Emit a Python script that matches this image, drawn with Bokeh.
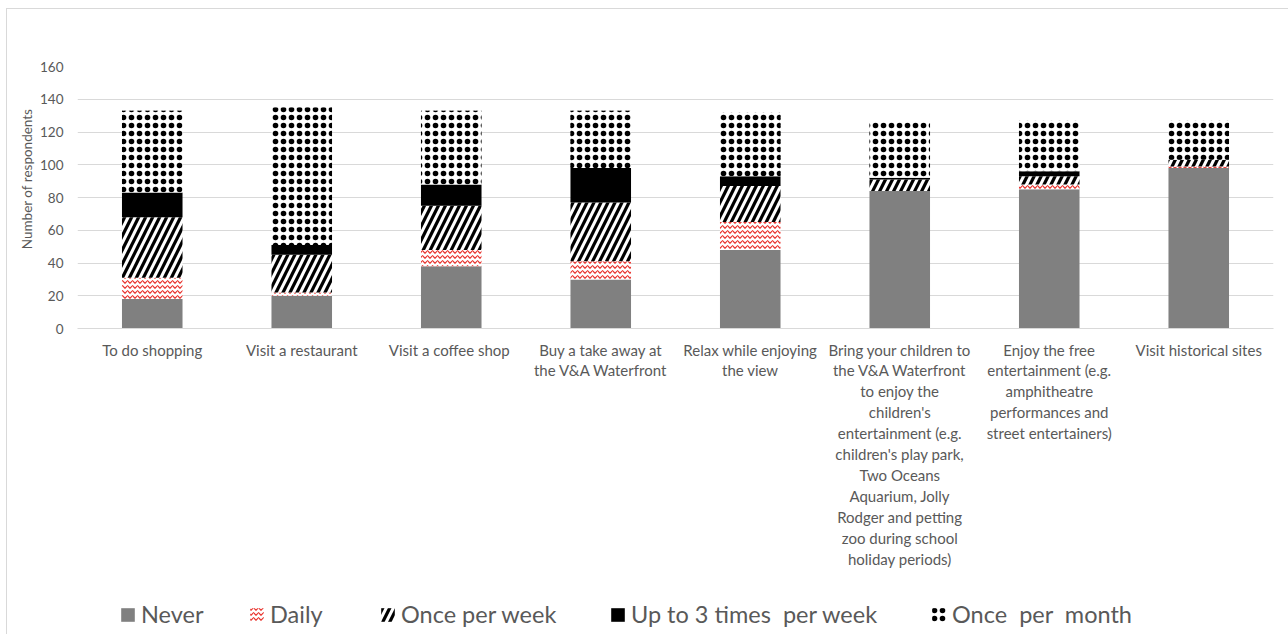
from bokeh.plotting import figure
from bokeh.layouts import column
from bokeh.models import ColumnDataSource, Range1d, FixedTicker, Legend, LegendItem, Title
from bokeh.transform import stack
from bokeh.embed import file_html
from bokeh.resources import INLINE

# Activities at the V&A Waterfront (x categories, wrapped by hand)
activities = [
    "To do shopping",
    "Visit a restaurant",
    "Visit a coffee  shop",
    "Buy a take away at\nthe V&A Waterfront",
    "Relax while enjoying\nthe view",
    "Bring your children to\nthe V&A Waterfront\nto enjoy the\nchildren's\nentertainment (e.g.\nchildren's play park,\nTwo Oceans\nAquarium, Jolly\nRodger and petting\nzoo during school\nholiday periods)",
    "Enjoy the free\nentertainment (e.g.\namphitheatre\nperformances and\nstreet entertainers)",
    "Visit historical sites",
]

# Frequency groups (stack order, bottom to top)
frequencies = ["Never", "Daily", "Once per week", "Up to 3 times  per week", "Once  per  month"]

# Number of respondents per activity and frequency
never = [18, 20, 38, 30, 48, 84, 85, 98]
daily = [13, 2, 10, 11, 17, 0, 3, 1]
once_per_week = [37, 23, 27, 36, 22, 7, 5, 4]
up_to_3_per_week = [15, 6, 13, 21, 6, 1, 3, 0]
once_per_month = [50, 84, 45, 35, 39, 34, 31, 24]

y_ticks = [0, 20, 40, 60, 80, 100, 120, 140, 160]

source = ColumnDataSource(dict(
    activity=activities,
    never=never,
    daily=daily,
    week=once_per_week,
    up3=up_to_3_per_week,
    month=once_per_month,
))
stack_keys = ["never", "daily", "week", "up3", "month"]

text_color = "#595959"
grid_color = "#d9d9d9"
font = "Lato"

# Fill / hatch style of each frequency segment
segment_styles = [
    dict(fill_color="#808080", hatch_pattern="blank", hatch_color="black",
         hatch_scale=8, hatch_weight=1),
    dict(fill_color="white", hatch_pattern="horizontal_wave", hatch_color="#e8302a",
         hatch_scale=5, hatch_weight=1.2),
    dict(fill_color="white", hatch_pattern="right_diagonal_line", hatch_color="black",
         hatch_scale=14, hatch_weight=3.2),
    dict(fill_color="black", hatch_pattern="blank", hatch_color="black",
         hatch_scale=8, hatch_weight=1),
    dict(fill_color="white", hatch_pattern="ring", hatch_color="black",
         hatch_scale=8, hatch_weight=1.6),
]
# solid centres for the rings of the monthly segment
dot_fill = dict(fill_alpha=0, hatch_pattern="dot", hatch_color="black",
                hatch_scale=8, hatch_weight=1)

p = figure(
    x_range=activities,
    width=1281, height=590,
    output_backend="svg", toolbar_location=None,
    min_border_left=70, min_border_top=57,
    min_border_right=15, min_border_bottom=271,
    background_fill_color="white", border_fill_color="white",
)
p.y_range = Range1d(0, 160)
p.outline_line_color = None

renderers = p.vbar_stack(
    stack_keys, x="activity", width=0.405, source=source, line_color=None,
    **{k: [s[k] for s in segment_styles] for k in segment_styles[0]},
)
p.vbar(x="activity", bottom=stack(*stack_keys[:-1]), top=stack(*stack_keys),
       width=0.405, source=source, line_color=None, **dot_fill)

# Axes
p.yaxis.ticker = FixedTicker(ticks=y_ticks)
p.yaxis.axis_line_color = None
p.yaxis.major_tick_line_color = None
p.yaxis.minor_tick_line_color = None
p.yaxis.major_tick_out = 0
p.yaxis.major_label_standoff = 14
p.yaxis.major_label_text_font = font
p.yaxis.major_label_text_font_size = "13.5px"
p.yaxis.major_label_text_color = text_color

# y-axis title, hung from the top of the plot area
p.add_layout(Title(
    text="Number of respondents", align="right", offset=42, standoff=5,
    text_font=font, text_font_size="13.5px", text_font_style="normal",
    text_color=text_color,
), "left")

p.xaxis.axis_line_color = grid_color
p.xaxis.major_tick_line_color = None
p.xaxis.minor_tick_line_color = None
p.xaxis.major_tick_out = 0
p.xaxis.major_label_standoff = 12
p.xaxis.major_label_text_font = font
p.xaxis.major_label_text_font_size = "15px"
p.xaxis.major_label_text_color = text_color
p.xaxis.major_label_text_line_height = 1.165

p.xgrid.grid_line_color = None
p.ygrid.grid_line_color = grid_color
p.ygrid.grid_line_width = 1

# Legend strip under the chart, with swatches styled like the segments
key = figure(
    width=1281, height=35,
    output_backend="svg", toolbar_location=None,
    x_axis_type=None, y_axis_type=None,
    min_border=0, min_border_left=0, min_border_right=0,
    min_border_top=0, min_border_bottom=0,
    background_fill_color="white", border_fill_color="white",
)
key.outline_line_color = None
key.x_range = Range1d(0, 1)
key.y_range = Range1d(0, 1)

# zero-height swatch glyphs: only their legend entries are visible
swatches = [
    [key.vbar(x=[0.5], top=[0], width=0.4, line_color=None, **s)]
    for s in segment_styles
]
swatches[-1].append(key.vbar(x=[0.5], top=[0], width=0.4, line_color=None, **dot_fill))

legend_offsets = [42, 171, 302, 532, 853]
for label, rs, dx in zip(frequencies, swatches, legend_offsets):
    key.add_layout(Legend(
        items=[LegendItem(label=label, renderers=rs)],
        orientation="horizontal",
        location=(dx, 6),
        border_line_color=None,
        background_fill_alpha=0,
        label_text_font=font,
        label_text_font_size="23.5px",
        label_text_color=text_color,
        glyph_width=17, glyph_height=17,
        label_standoff=5,
        padding=0, margin=0,
    ))

page = column(p, key, spacing=0, styles={
    "margin-left": "6px", "margin-top": "8px",
    "border-left": "1px solid #d9d9d9", "border-top": "1px solid #d9d9d9",
})

open("out.html", "w").write(file_html(page, INLINE))
